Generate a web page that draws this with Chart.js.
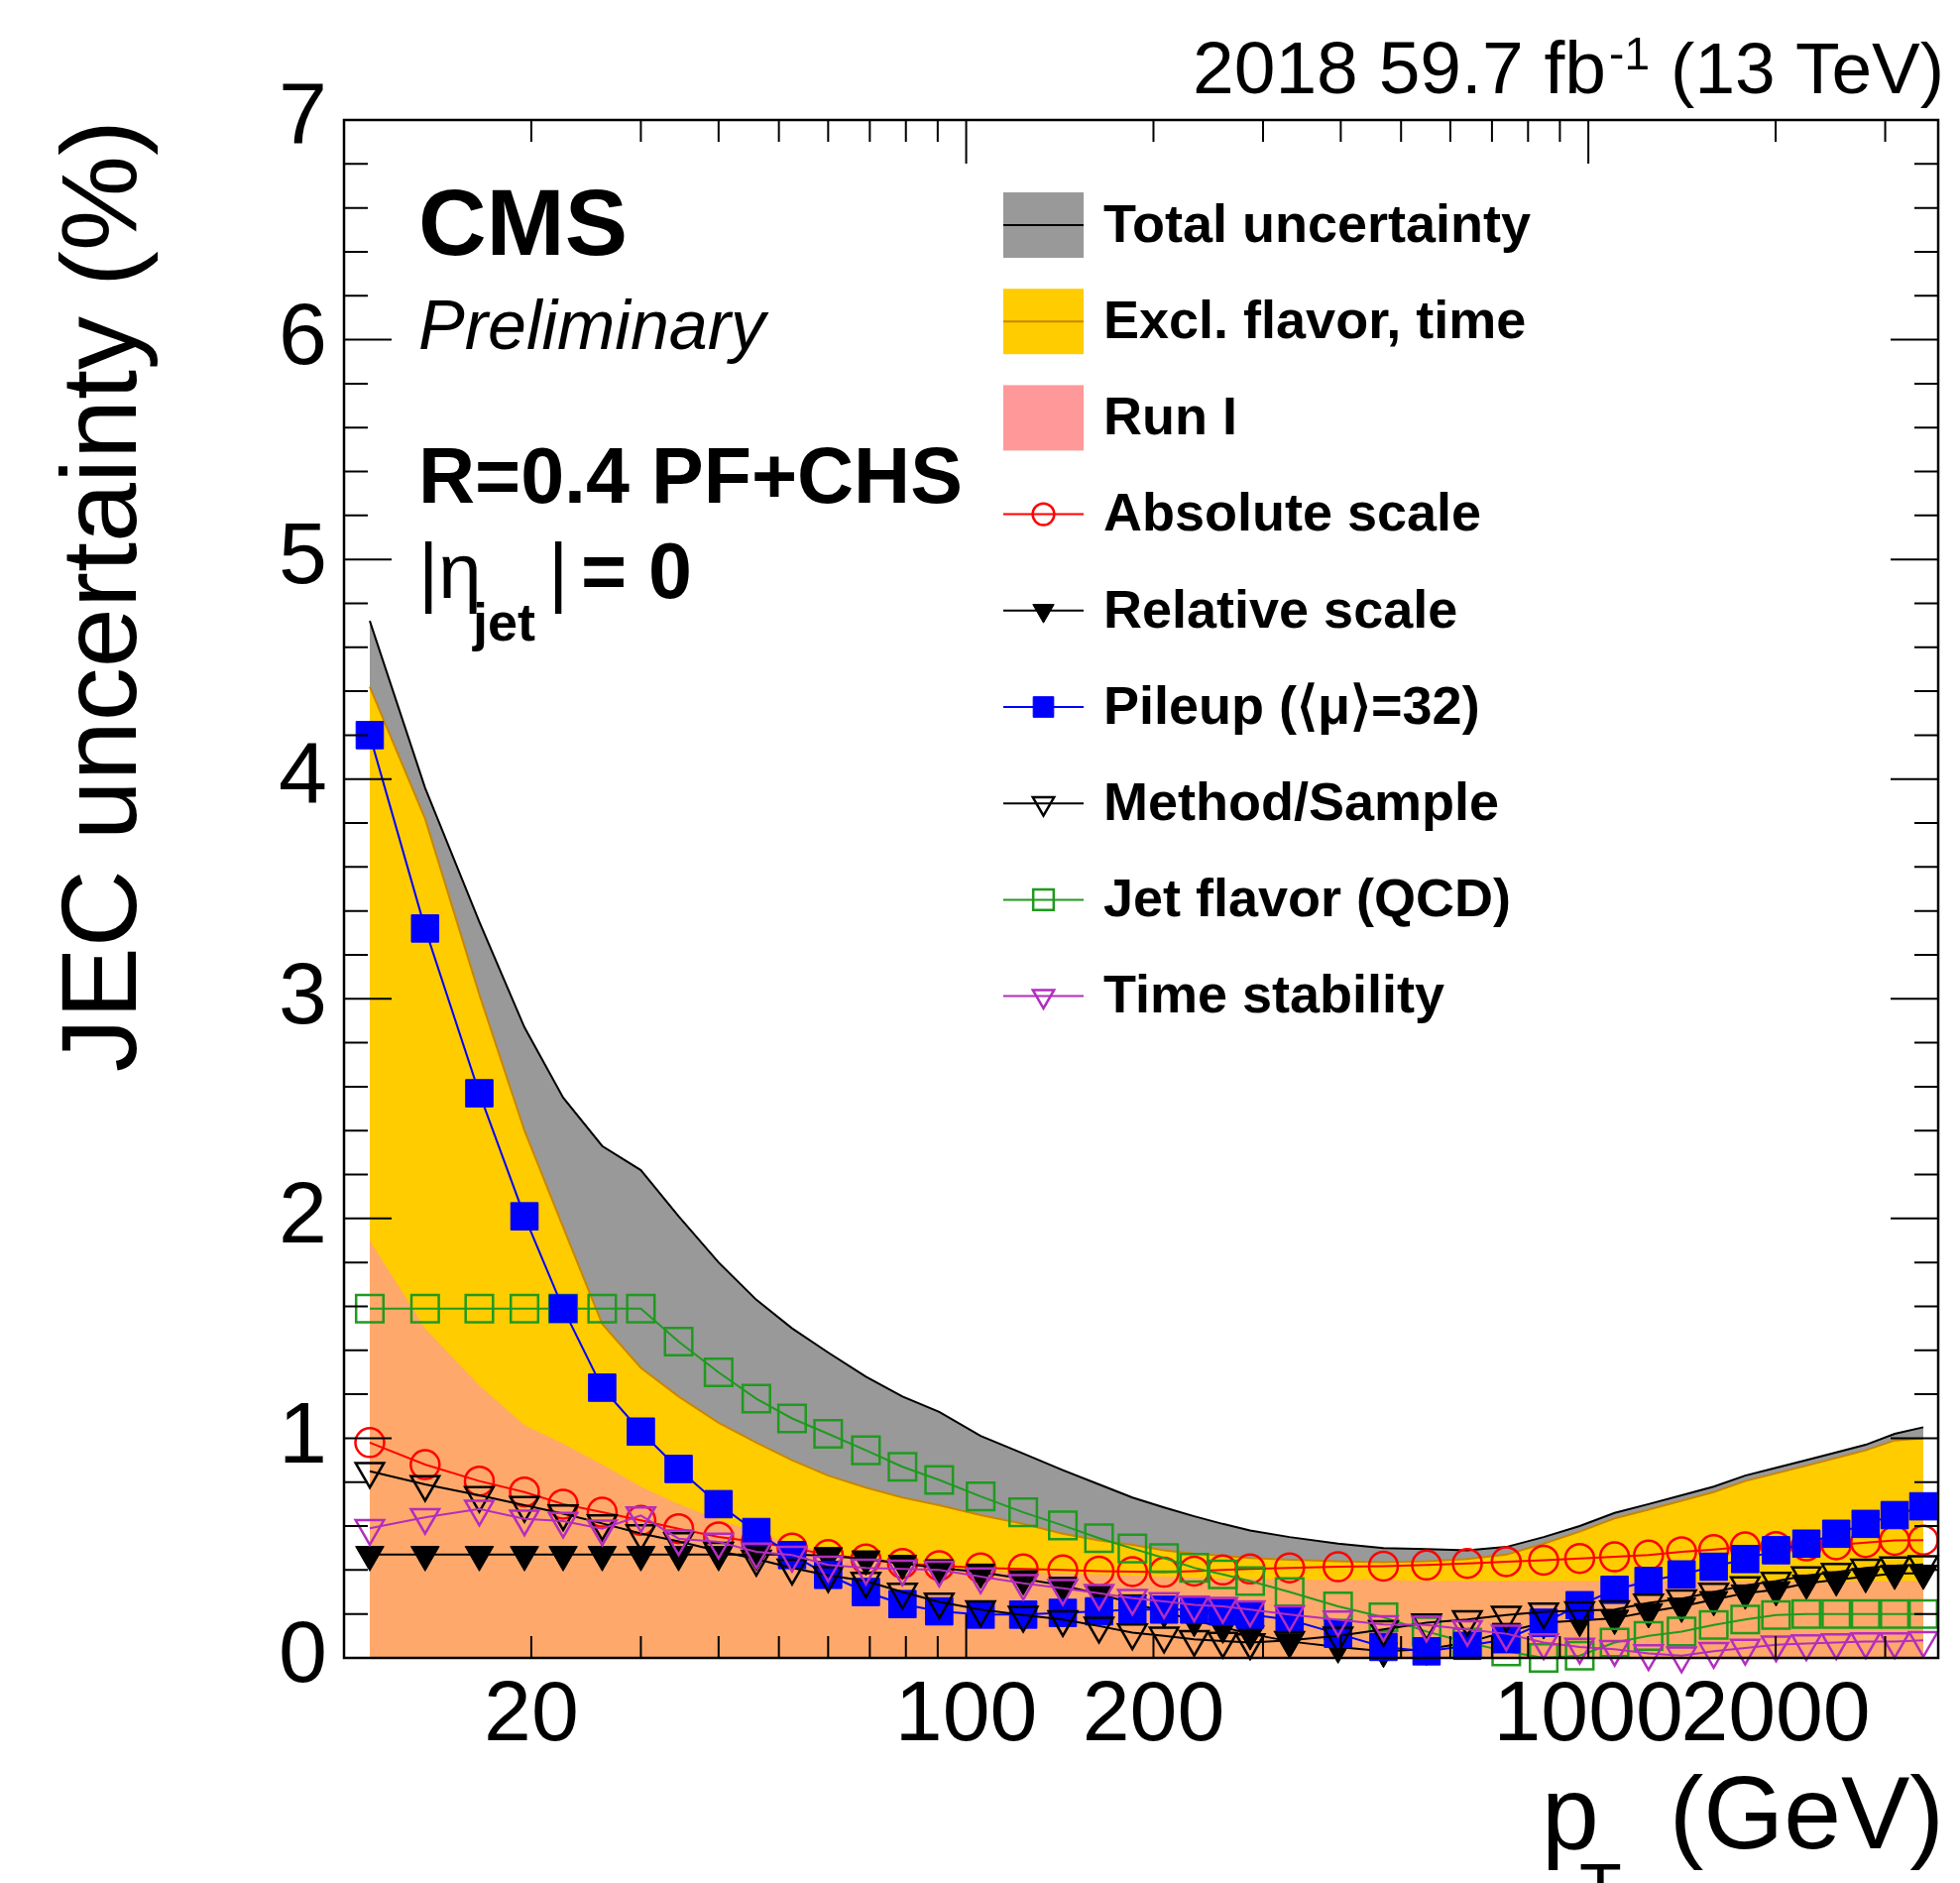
<!DOCTYPE html>
<html>
<head>
<meta charset="utf-8">
<title>JEC uncertainty sources</title>
<script src="https://cdn.jsdelivr.net/npm/chart.js@4.4.1/dist/chart.umd.min.js"></script>
<style>
  html, body { margin: 0; padding: 0; background: #fff; }
  canvas { display: block; }
</style>
</head>
<body>
<canvas id="jecChart" width="1977" height="1899"></canvas>
<script>
// pT bin centres (GeV) where the uncertainty sources are evaluated
const ptBins = [11, 13.5, 16.5, 19.5, 22.5, 26, 30, 34.5, 40, 46, 52.5, 60, 69, 79, 90.5, 105.5, 123.5, 143, 163.5, 185, 208, 232.5, 258.5, 286, 331, 396, 468.5, 549.5, 639, 738, 847.5, 968.5, 1102, 1249.5, 1412, 1590.5, 1787, 2003, 2241, 2503, 2790.5, 3107, 3455];

// bands (%)
const totalUnc = [4.72, 3.96, 3.35, 2.87, 2.55, 2.33, 2.22, 2.01, 1.80, 1.63, 1.50, 1.39, 1.28, 1.19, 1.12, 1.01, 0.93, 0.855, 0.79, 0.73, 0.685, 0.645, 0.61, 0.58, 0.55, 0.52, 0.50, 0.495, 0.49, 0.505, 0.55, 0.60, 0.66, 0.70, 0.74, 0.78, 0.83, 0.865, 0.90, 0.935, 0.97, 1.02, 1.05];
const exclFlavorTime = [4.42, 3.82, 3.02, 2.40, 1.96, 1.52, 1.32, 1.19, 1.07, 0.98, 0.90, 0.83, 0.775, 0.73, 0.695, 0.65, 0.61, 0.565, 0.535, 0.515, 0.49, 0.475, 0.465, 0.455, 0.447, 0.44, 0.435, 0.44, 0.45, 0.47, 0.52, 0.575, 0.635, 0.675, 0.715, 0.755, 0.805, 0.84, 0.875, 0.91, 0.945, 0.99, 1.0];
const runOne = [1.90, 1.50, 1.24, 1.06, 0.975, 0.88, 0.78, 0.70, 0.63, 0.57, 0.52, 0.48, 0.45, 0.43, 0.41, 0.40, 0.39, 0.385, 0.38, 0.375, 0.37, 0.365, 0.36, 0.36, 0.355, 0.355, 0.355, 0.35, 0.35, 0.35, 0.35, 0.35, 0.35, 0.35, 0.35, 0.35, 0.35, 0.35, 0.35, 0.35, 0.35, 0.35, 0.35];

// individual sources (%)
const absoluteScale = [0.98, 0.88, 0.805, 0.755, 0.70, 0.663, 0.626, 0.588, 0.551, 0.528, 0.50, 0.47, 0.45, 0.43, 0.42, 0.41, 0.405, 0.40, 0.395, 0.393, 0.39, 0.395, 0.40, 0.405, 0.41, 0.415, 0.418, 0.423, 0.43, 0.438, 0.445, 0.453, 0.46, 0.468, 0.483, 0.493, 0.505, 0.507, 0.51, 0.515, 0.525, 0.535, 0.536];
const relativeScale = [0.47, 0.47, 0.47, 0.47, 0.47, 0.47, 0.47, 0.47, 0.47, 0.47, 0.47, 0.465, 0.45, 0.43, 0.41, 0.39, 0.36, 0.33, 0.29, 0.25, 0.21, 0.17, 0.14, 0.11, 0.075, 0.05, 0.03, 0.04, 0.07, 0.12, 0.16, 0.17, 0.18, 0.21, 0.235, 0.265, 0.295, 0.31, 0.34, 0.355, 0.37, 0.385, 0.385];
const pileup = [4.20, 3.32, 2.57, 2.01, 1.59, 1.23, 1.03, 0.86, 0.70, 0.573, 0.468, 0.378, 0.30, 0.245, 0.212, 0.197, 0.197, 0.205, 0.212, 0.22, 0.22, 0.22, 0.212, 0.197, 0.174, 0.11, 0.05, 0.03, 0.055, 0.085, 0.16, 0.24, 0.31, 0.35, 0.38, 0.415, 0.45, 0.49, 0.52, 0.565, 0.61, 0.65, 0.69];
const methodSample = [0.85, 0.79, 0.74, 0.695, 0.657, 0.612, 0.566, 0.53, 0.486, 0.45, 0.41, 0.376, 0.35, 0.30, 0.255, 0.22, 0.195, 0.175, 0.145, 0.115, 0.10, 0.085, 0.077, 0.07, 0.08, 0.10, 0.13, 0.16, 0.175, 0.195, 0.21, 0.215, 0.22, 0.25, 0.27, 0.30, 0.33, 0.35, 0.375, 0.39, 0.41, 0.42, 0.425];
const jetFlavor = [1.59, 1.59, 1.59, 1.59, 1.59, 1.59, 1.59, 1.44, 1.30, 1.18, 1.09, 1.02, 0.945, 0.87, 0.81, 0.735, 0.663, 0.603, 0.545, 0.498, 0.455, 0.41, 0.38, 0.35, 0.30, 0.235, 0.185, 0.12, 0.07, 0.03, 0.0, 0.01, 0.07, 0.10, 0.12, 0.15, 0.175, 0.195, 0.20, 0.20, 0.20, 0.20, 0.20];
const timeStability = [0.59, 0.64, 0.678, 0.633, 0.623, 0.588, 0.648, 0.543, 0.528, 0.483, 0.468, 0.423, 0.41, 0.405, 0.40, 0.37, 0.34, 0.317, 0.295, 0.272, 0.257, 0.242, 0.235, 0.22, 0.197, 0.174, 0.152, 0.15, 0.13, 0.11, 0.07, 0.05, 0.04, 0.02, 0.01, 0.03, 0.045, 0.06, 0.065, 0.07, 0.075, 0.075, 0.08];

// axis ticks
const xTickValues = [20, 30, 40, 50, 60, 70, 80, 90, 100, 200, 300, 400, 500, 600, 700, 800, 900, 1000, 2000, 3000];
const xTickLabels = [20, 100, 200, 1000, 2000];
const xMajorTicks = [10, 100, 1000];

const FONT = '"Liberation Sans", Arial, Helvetica, sans-serif';
Chart.defaults.font.family = FONT;
Chart.defaults.color = '#000';

const points = vals => ptBins.map((pt, i) => ({ x: pt, y: vals[i] }));

function band(label, vals, fill, line, swatch, order) {
    return {
        label: label, data: points(vals), order: order, kind: 'band', swatch: swatch,
        backgroundColor: fill, borderColor: line || 'rgba(0,0,0,0)', borderWidth: 2,
        fill: 'origin', pointRadius: 0, tension: 0
    };
}

function source(label, vals, color, style, filled, radius, order) {
    return {
        label: label, data: points(vals), order: order, kind: 'source',
        borderColor: color, borderWidth: 2, fill: false, tension: 0, clip: false,
        pointStyle: style, pointRadius: radius,
        pointRotation: style === 'triangle' ? 180 : 0,
        pointBackgroundColor: filled ? color : 'rgba(0,0,0,0)',
        pointBorderColor: color, pointBorderWidth: filled ? 1 : 2.5
    };
}

// legend order == dataset order, drawing order set by "order"
const datasets = [
    band('Total uncertainty', totalUnc, '#999999', '#000000', '#999999', 9),
    band('Excl. flavor, time', exclFlavorTime, '#ffcc00', '#c98600', '#ffcc00', 8),
    band('Run I', runOne, 'rgba(255,153,153,0.7)', null, '#ff9999', 7),
    source('Absolute scale', absoluteScale, '#ff0000', 'circle', false, 14.5, 6),
    source('Relative scale', relativeScale, '#000000', 'triangle', true, 16.5, 5),
    source('Pileup (\u27E8\u03BC\u27E9=32)', pileup, '#0000ff', 'rect', true, 19.5, 3),
    source('Method/Sample', methodSample, '#000000', 'triangle', false, 16.5, 2),
    source('Jet flavor (QCD)', jetFlavor, '#1f9a1f', 'rect', false, 19.5, 4),
    source('Time stability', timeStability, '#b32dbf', 'triangle', false, 16.5, 1)
];

// ROOT-like frame with inward ticks on all four sides
const axisFrame = {
    id: 'axisFrame',
    afterDatasetsDraw(chart) {
        const { ctx, chartArea: a, scales: { x, y } } = chart;
        ctx.save();
        ctx.strokeStyle = '#000';
        ctx.lineWidth = 2;
        ctx.beginPath();
        for (let i = 1; i < 35; i++) {
            const py = y.getPixelForValue(i / 5);
            const len = i % 5 === 0 ? 48 : 24;
            ctx.moveTo(a.left, py); ctx.lineTo(a.left + len, py);
            ctx.moveTo(a.right, py); ctx.lineTo(a.right - len, py);
        }
        xTickValues.concat(xMajorTicks).forEach(v => {
            const px = x.getPixelForValue(v);
            if (px < a.left || px > a.right) return;
            const len = xMajorTicks.includes(v) ? 44 : 22;
            ctx.moveTo(px, a.bottom); ctx.lineTo(px, a.bottom - len);
            ctx.moveTo(px, a.top); ctx.lineTo(px, a.top + len);
        });
        ctx.stroke();
        ctx.lineWidth = 2.5;
        ctx.strokeRect(a.left, a.top, a.right - a.left, a.bottom - a.top);
        ctx.restore();
    }
};

function text(ctx, str, x, y, font, align) {
    ctx.font = font;
    ctx.textAlign = align || 'left';
    ctx.fillText(str, x, y);
    return ctx.measureText(str).width;
}

// labels, axis title and legend
const annotations = {
    id: 'annotations',
    afterDraw(chart) {
        const ctx = chart.ctx;
        ctx.save();
        ctx.fillStyle = '#000';
        ctx.textBaseline = 'alphabetic';

        text(ctx, 'CMS', 422, 257, 'bold 95px ' + FONT);
        text(ctx, 'Preliminary', 422, 352, 'italic 70px ' + FONT);
        text(ctx, 'R=0.4 PF+CHS', 422, 507, 'bold 79px ' + FONT);
        text(ctx, '|\u03B7', 422, 603, '78px ' + FONT);
        text(ctx, 'jet', 477, 646, 'bold 54px ' + FONT);
        text(ctx, '|', 553, 603, '78px ' + FONT);
        text(ctx, '= 0', 586, 603, 'bold 79px ' + FONT);

        // luminosity / energy
        text(ctx, '(13 TeV)', 1961, 94, '73px ' + FONT, 'right');
        text(ctx, '-1', 1664, 70, '46px ' + FONT, 'right');
        text(ctx, '2018 59.7 fb', 1620, 94, '75px ' + FONT, 'right');

        // x axis title
        text(ctx, 'p', 1555, 1864, '104px ' + FONT);
        text(ctx, 'T', 1593, 1929, '70px ' + FONT);
        text(ctx, '(GeV)', 1961, 1864, '104px ' + FONT, 'right');

        // legend
        const x0 = 1012, x1 = 1093, xm = (x0 + x1) / 2, textX = 1113;
        chart.data.datasets.forEach((ds, i) => {
            const yc = 227 + i * 97.2;
            if (ds.kind === 'band') {
                ctx.fillStyle = ds.swatch;
                ctx.fillRect(x0, yc - 33, x1 - x0, 66);
                if (ds.borderColor !== 'rgba(0,0,0,0)') {
                    ctx.strokeStyle = ds.borderColor;
                    ctx.lineWidth = 2;
                    ctx.beginPath(); ctx.moveTo(x0, yc); ctx.lineTo(x1, yc); ctx.stroke();
                }
            } else {
                ctx.strokeStyle = ds.borderColor;
                ctx.lineWidth = 2;
                ctx.beginPath(); ctx.moveTo(x0, yc); ctx.lineTo(x1, yc); ctx.stroke();
                ctx.fillStyle = ds.pointBackgroundColor;
                ctx.strokeStyle = ds.pointBorderColor;
                ctx.lineWidth = ds.pointBorderWidth;
                Chart.helpers.drawPoint(ctx, {
                    pointStyle: ds.pointStyle, rotation: ds.pointRotation,
                    radius: ds.pointRadius * 0.75, borderWidth: ds.pointBorderWidth
                }, xm, yc);
            }
            ctx.fillStyle = '#000';
            ctx.textBaseline = 'middle';
            text(ctx, ds.label, textX, yc + 2, 'bold 54px ' + FONT);
            ctx.textBaseline = 'alphabetic';
        });
        ctx.restore();
    }
};

new Chart(document.getElementById('jecChart'), {
    type: 'line',
    data: { datasets: datasets },
    options: {
        responsive: false,
        animation: false,
        devicePixelRatio: 1,
        layout: { padding: { left: 42, top: 121, right: 12, bottom: 77 } },
        plugins: { legend: { display: false }, tooltip: { enabled: false } },
        scales: {
            x: {
                type: 'logarithmic',
                min: 10,
                max: 3650,
                bounds: 'data',
                afterBuildTicks: s => { s.ticks = xTickValues.map(v => ({ value: v })); },
                afterFit: s => { s.height = 150; },
                grid: { display: false, drawTicks: false },
                border: { display: false },
                ticks: {
                    autoSkip: false, maxRotation: 0, minRotation: 0, padding: 8,
                    font: { size: 86 }, color: '#000',
                    callback: v => xTickLabels.includes(v) ? String(v) : ''
                }
            },
            y: {
                min: 0,
                max: 7,
                afterFit: s => { s.width = 305; },
                grid: { display: false, drawTicks: false },
                border: { display: false },
                ticks: { stepSize: 1, padding: 17, font: { size: 88 }, color: '#000' },
                title: {
                    display: true, text: 'JEC uncertainty (%)', align: 'end',
                    font: { size: 108 }, color: '#000', padding: 0
                }
            }
        }
    },
    plugins: [axisFrame, annotations]
});
</script>
</body>
</html>
